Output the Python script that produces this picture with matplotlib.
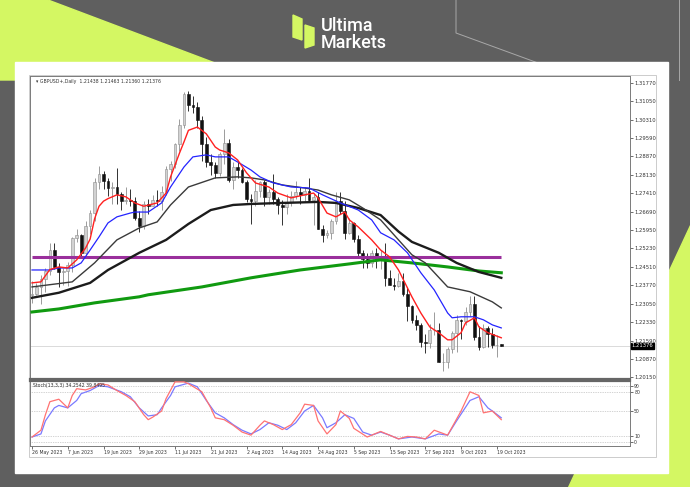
import numpy as np
import matplotlib.pyplot as plt
from matplotlib.patches import Polygon, Rectangle
from matplotlib.transforms import blended_transform_factory

W, H = 690, 487

# GBPUSD daily bars, 26 May 2023 .. 20 Oct 2023
opens = [1.2340, 1.2343, 1.2372, 1.2404, 1.2434, 1.2517, 1.2450, 1.2430, 1.2433, 1.2459,
         1.2566, 1.2576, 1.2506, 1.2610, 1.2663, 1.2785, 1.2818, 1.2791, 1.2763, 1.2767,
         1.2740, 1.2712, 1.2715, 1.2710, 1.2643, 1.2610, 1.2700, 1.2690, 1.2715, 1.2710,
         1.2745, 1.2836, 1.2858, 1.2935, 1.3012, 1.3133, 1.3090, 1.3082, 1.3032, 1.2935,
         1.2865, 1.2851, 1.2822, 1.2895, 1.2940, 1.2795, 1.2845, 1.2835, 1.2785, 1.2720,
         1.2710, 1.2750, 1.2785, 1.2725, 1.2745, 1.2720, 1.2695, 1.2685, 1.2705, 1.2730,
         1.2745, 1.2735, 1.2750, 1.2715, 1.2725, 1.2600, 1.2575, 1.2585, 1.2630, 1.2710,
         1.2670, 1.2585, 1.2625, 1.2560, 1.2505, 1.2480, 1.2465, 1.2505, 1.2490, 1.2490,
         1.2405, 1.2380, 1.2375, 1.2395, 1.2345, 1.2295, 1.2240, 1.2220, 1.2155, 1.2150,
         1.2200, 1.2200, 1.2075, 1.2075, 1.2125, 1.2190, 1.2240, 1.2235, 1.2270, 1.2305,
         1.2175, 1.2135, 1.2210, 1.2185, 1.2140, 1.21438]
highs = [1.2393, 1.2387, 1.2420, 1.2444, 1.2545, 1.2545, 1.2467, 1.2445, 1.2470, 1.2570,
         1.2598, 1.2580, 1.2630, 1.2675, 1.2800, 1.2848, 1.2830, 1.2800, 1.2785, 1.2841,
         1.2745, 1.2765, 1.2760, 1.2725, 1.2670, 1.2710, 1.2720, 1.2736, 1.2755, 1.2770,
         1.2850, 1.2870, 1.2940, 1.3035, 1.3140, 1.3144, 1.3125, 1.3100, 1.3045, 1.2965,
         1.2895, 1.2865, 1.2905, 1.2995, 1.2955, 1.2865, 1.2870, 1.2840, 1.2795, 1.2740,
         1.2795, 1.2790, 1.2795, 1.2760, 1.2818, 1.2725, 1.2715, 1.2740, 1.2750, 1.2790,
         1.2765, 1.2765, 1.2800, 1.2740, 1.2745, 1.2615, 1.2595, 1.2640, 1.2745, 1.2745,
         1.2710, 1.2645, 1.2628, 1.2575, 1.2515, 1.2505, 1.2515, 1.2525, 1.2515, 1.2545,
         1.2438, 1.2406, 1.2425, 1.2425, 1.2370, 1.2300, 1.2260, 1.2230, 1.2185, 1.2225,
         1.2270, 1.2230, 1.2110, 1.2135, 1.2195, 1.2260, 1.2245, 1.2290, 1.2335, 1.2337,
         1.2215, 1.2225, 1.2215, 1.2210, 1.2180, 1.21463]
lows = [1.2308, 1.2338, 1.2305, 1.2350, 1.2420, 1.2440, 1.2370, 1.2380, 1.2376, 1.2430,
        1.2550, 1.2489, 1.2484, 1.2580, 1.2630, 1.2760, 1.2760, 1.2730, 1.2700, 1.2700,
        1.2677, 1.2700, 1.2690, 1.2635, 1.2590, 1.2600, 1.2660, 1.2690, 1.2690, 1.2675,
        1.2735, 1.2790, 1.2840, 1.2910, 1.3000, 1.3065, 1.3060, 1.3000, 1.2870, 1.2845,
        1.2815, 1.2800, 1.2808, 1.2855, 1.2785, 1.2760, 1.2800, 1.2780, 1.2705, 1.2620,
        1.2690, 1.2725, 1.2690, 1.2700, 1.2700, 1.2660, 1.2615, 1.2660, 1.2690, 1.2720,
        1.2700, 1.2710, 1.2705, 1.2615, 1.2600, 1.2550, 1.2565, 1.2560, 1.2620, 1.2660,
        1.2560, 1.2580, 1.2547, 1.2490, 1.2445, 1.2445, 1.2450, 1.2445, 1.2440, 1.2375,
        1.2378, 1.2358, 1.2370, 1.2335, 1.2235, 1.2230, 1.2200, 1.2135, 1.2110, 1.2130,
        1.2180, 1.2075, 1.2037, 1.2050, 1.2110, 1.2115, 1.2165, 1.2220, 1.2255, 1.2160,
        1.2123, 1.2130, 1.2135, 1.2130, 1.2093, 1.21360]
closes = [1.2343, 1.2372, 1.2404, 1.2434, 1.2517, 1.2450, 1.2430, 1.2433, 1.2459, 1.2566,
          1.2576, 1.2506, 1.2610, 1.2663, 1.2785, 1.2818, 1.2791, 1.2763, 1.2767, 1.2740,
          1.2712, 1.2715, 1.2710, 1.2643, 1.2610, 1.2700, 1.2690, 1.2715, 1.2710, 1.2745,
          1.2836, 1.2858, 1.2935, 1.3012, 1.3133, 1.3090, 1.3082, 1.3032, 1.2935, 1.2865,
          1.2851, 1.2822, 1.2895, 1.2940, 1.2795, 1.2845, 1.2835, 1.2785, 1.2720, 1.2710,
          1.2750, 1.2785, 1.2725, 1.2745, 1.2720, 1.2695, 1.2685, 1.2705, 1.2730, 1.2745,
          1.2735, 1.2750, 1.2715, 1.2725, 1.2600, 1.2575, 1.2585, 1.2630, 1.2710, 1.2670,
          1.2585, 1.2625, 1.2560, 1.2505, 1.2480, 1.2465, 1.2505, 1.2490, 1.2490, 1.2405,
          1.2380, 1.2375, 1.2395, 1.2345, 1.2295, 1.2240, 1.2220, 1.2155, 1.2150, 1.2200,
          1.2200, 1.2075, 1.2075, 1.2125, 1.2190, 1.2240, 1.2235, 1.2270, 1.2305, 1.2175,
          1.2135, 1.2210, 1.2185, 1.2140, 1.2140, 1.21376]

# moving averages (sampled along the curves)
red_bar = [0, 2, 4, 6, 8, 10, 12, 13, 14, 15, 16, 17, 19, 21, 23, 25, 28, 30, 31, 33,
           34, 35, 37, 39, 41, 42, 44, 46, 48, 50, 53, 55, 58, 61, 63, 64, 66, 68, 70, 71,
           73, 76, 78, 80, 82, 85, 87, 89, 91, 93, 94, 96, 97, 99, 100, 102, 105]
red_ma = [1.2387, 1.2391, 1.2440, 1.2450, 1.2446, 1.2478, 1.2525, 1.2560, 1.2640, 1.2690,
          1.2710, 1.2720, 1.2735, 1.2727, 1.2703, 1.2690, 1.2703, 1.2742, 1.2806, 1.2900,
          1.2944, 1.2990, 1.3003, 1.2976, 1.2924, 1.2912, 1.2901, 1.2873, 1.2822, 1.2782,
          1.2766, 1.2742, 1.2723, 1.2735, 1.2742, 1.2723, 1.2663, 1.2648, 1.2667, 1.2636,
          1.2608, 1.2557, 1.2517, 1.2490, 1.2438, 1.2332, 1.2268, 1.2213, 1.2190, 1.2162,
          1.2162, 1.2190, 1.2229, 1.2249, 1.2213, 1.2190, 1.2170]
blue_bar = [0, 4, 6, 9, 11, 13, 15, 17, 19, 22, 23, 26, 29, 31, 34, 36, 39, 41, 44, 46,
            49, 51, 54, 58, 62, 65, 69, 73, 76, 78, 81, 84, 87, 90, 93, 94, 96, 99, 101,
            103, 105]
blue_ma = [1.2438, 1.2438, 1.2446, 1.2446, 1.2466, 1.2517, 1.2569, 1.2624, 1.2648, 1.2663,
           1.2667, 1.2667, 1.2703, 1.2766, 1.2845, 1.2885, 1.2893, 1.2885, 1.2885, 1.2865,
           1.2833, 1.2806, 1.2782, 1.2766, 1.2762, 1.2735, 1.2703, 1.2675, 1.2636, 1.2585,
           1.2557, 1.2506, 1.2427, 1.2359, 1.2268, 1.2249, 1.2253, 1.2253, 1.2241, 1.2221,
           1.2209]
black_bar = [0, 9, 14, 19, 24, 28, 31, 35, 41, 46, 49, 52, 56, 61, 64, 67, 71, 74, 78, 82,
             85, 88, 93, 98, 103, 105]
black_ma = [1.2371, 1.2391, 1.2466, 1.2557, 1.2604, 1.2628, 1.2695, 1.2766, 1.2802, 1.2806,
            1.2802, 1.2794, 1.2774, 1.2762, 1.2754, 1.2735, 1.2715, 1.2683, 1.2636, 1.2557,
            1.2498, 1.2466, 1.2371, 1.2352, 1.2312, 1.2288]
slow_bar = [0, 6, 13, 17, 24, 30, 35, 40, 45, 49, 56, 64, 68, 73, 78, 82, 85, 91, 95, 100, 105]
slow_ma = [1.2328, 1.2348, 1.2387, 1.2438, 1.2506, 1.2557, 1.2620, 1.2675, 1.2695, 1.2699,
           1.2703, 1.2707, 1.2703, 1.2683, 1.2655, 1.2590, 1.2549, 1.2506, 1.2466, 1.2430,
           1.2407]
green_bar = [0, 6, 14, 24, 26, 38, 49, 60, 71, 78, 85, 93, 100, 105]
green_ma = [1.2272, 1.2284, 1.2308, 1.2332, 1.2340, 1.2371, 1.2407, 1.2438, 1.2462, 1.2478,
            1.2466, 1.2450, 1.2434, 1.2427]
purple_bar = [0, 105]
purple_ma = [1.2490, 1.2490]

# stochastic (13,3,3)
k_bar = [0, 2, 3, 4, 6, 7, 8, 9, 10, 12, 14, 15, 17, 19, 21, 23, 25, 26, 27, 29, 30, 32,
         34, 35, 38, 40, 41, 43, 45, 47, 49, 51, 52, 54, 56, 58, 60, 61, 63, 64, 66, 68,
         69, 71, 72, 75, 78, 80, 82, 84, 86, 88, 90, 93, 96, 98, 100, 101, 103, 105]
k_val = [8, 19, 44, 65, 69, 62, 55, 75, 86, 84, 89, 94, 92, 83, 75, 65, 44, 36, 40, 50, 70,
         97, 97, 94, 81, 55, 39, 36, 27, 16, 11, 27, 34, 28, 20, 28, 47, 61, 59, 34, 13, 28,
         50, 38, 22, 8, 17, 11, 5, 9, 8, 5, 19, 11, 50, 81, 75, 47, 50, 36]
d_bar = [0, 2, 3, 5, 6, 8, 10, 11, 13, 15, 17, 20, 22, 24, 26, 28, 29, 31, 32, 35, 37, 39,
         41, 43, 45, 47, 49, 51, 53, 55, 57, 59, 61, 63, 65, 66, 68, 70, 72, 74, 76, 78, 80,
         82, 85, 87, 88, 91, 93, 95, 98, 100, 102, 103, 105]
d_val = [8, 13, 34, 55, 59, 55, 67, 78, 83, 91, 89, 81, 73, 55, 42, 44, 55, 75, 89, 95, 89,
         67, 47, 39, 28, 19, 13, 20, 31, 27, 20, 31, 50, 59, 39, 23, 31, 44, 38, 16, 11, 16,
         11, 5, 8, 6, 5, 13, 11, 34, 67, 73, 55, 50, 39]
stoch_levels = [90, 80, 50, 10, 0]

price_ticks = [1.31770, 1.31050, 1.30310, 1.29590, 1.28870, 1.28130, 1.27410, 1.26690,
               1.25950, 1.25230, 1.24510, 1.23770, 1.23050, 1.22330, 1.21590, 1.20870, 1.20150]
date_labels = ["26 May 2023", "7 Jun 2023", "19 Jun 2023", "29 Jun 2023", "11 Jul 2023",
               "21 Jul 2023", "2 Aug 2023", "14 Aug 2023", "24 Aug 2023", "5 Sep 2023",
               "15 Sep 2023", "27 Sep 2023", "9 Oct 2023", "19 Oct 2023"]
date_bars = list(range(0, 8 * len(date_labels), 8))
last_price = 1.21376

LIME = '#d4f763'
GREY_BG = '#5f5f5f'


def px(x0, y0, x1, y1):
    # pixel box -> figure fraction rect
    return [x0 / W, 1 - y1 / H, (x1 - x0) / W, (y1 - y0) / H]


fig = plt.figure(figsize=(W / 100, H / 100), dpi=100)

# ---- page background ----
bg = fig.add_axes([0, 0, 1, 1])
bg.set_xlim(0, W)
bg.set_ylim(H, 0)
bg.axis('off')
bg.add_patch(Rectangle((0, 0), W, H, color=GREY_BG, zorder=0))
bg.add_patch(Polygon([(0, 0), (48, 0), (260, 80), (0, 80)], color=LIME, zorder=1))
bg.add_patch(Polygon([(690, 225), (690, 487), (568, 487)], color=LIME, zorder=1))
bg.plot([456, 456, 560], [0, 33, 71], color='#a8a8a8', lw=0.7, zorder=1)
bg.plot([679, 679], [0, 80], color='#a8a8a8', lw=0.7, zorder=1)
bg.add_patch(Rectangle((15, 62), 653, 411, color='white', zorder=2))
bg.add_patch(Rectangle((29, 75), 627, 382, fill=False, ec='#c4c4c4', lw=0.6, zorder=3))

# logo
bg.add_patch(Polygon([(293, 15), (302, 19), (302, 40), (293, 37)], color=LIME, zorder=3))
bg.add_patch(Polygon([(305, 25), (314, 28), (314, 45), (305, 48)], color=LIME, zorder=3))
bg.text(321, 31, "Ultima", color='white', fontsize=13, family='Roboto',
        fontweight='medium', va='baseline', ha='left', zorder=3)
bg.text(321, 48, "Markets", color='white', fontsize=13, family='Roboto',
        fontweight='medium', va='baseline', ha='left', zorder=3)

x_lo, x_hi = -0.45, 133.8

# ---- price panel ----
ax = fig.add_axes(px(30, 76, 630, 379))
ax.set_facecolor('white')
ax.set_xlim(x_lo, x_hi)
ax.set_ylim(1.20071, 1.32047)

o = np.array(opens)
h = np.array(highs)
l = np.array(lows)
c = np.array(closes)
x = np.arange(len(c))
up = c >= o
body = np.where(np.abs(c - o) < 0.00008, 0.00008, c - o)

ax.axhline(last_price, color='#d4d4d4', lw=0.6, zorder=1)
ax.vlines(x[up], l[up], h[up], color='#8c8c8c', lw=0.6, zorder=2)
ax.vlines(x[~up], l[~up], h[~up], color='#111111', lw=0.6, zorder=2)
ax.bar(x[up], body[up], bottom=o[up], width=0.62, color='#d2d2d2',
       edgecolor='#8c8c8c', lw=0.4, zorder=3)
ax.bar(x[~up], body[~up], bottom=o[~up], width=0.62, color='#111111',
       edgecolor='#111111', lw=0.4, zorder=3)

ax.plot(purple_bar, purple_ma, color='#9a2f9c', lw=2.2, zorder=4, solid_capstyle='butt')
ax.plot(green_bar, green_ma, color='#109a10', lw=2.2, zorder=4)
ax.plot(slow_bar, slow_ma, color='#1c1c1c', lw=1.7, zorder=5)
ax.plot(black_bar, black_ma, color='#3a3a3a', lw=1.0, zorder=5)
ax.plot(blue_bar, blue_ma, color='#2424ff', lw=0.9, zorder=6)
ax.plot(red_bar, red_ma, color='#ff2020', lw=1.0, zorder=6)

ax.yaxis.tick_right()
ax.set_yticks(price_ticks)
ax.set_yticklabels([f"{v:.5f}" for v in price_ticks])
ax.set_xticks([])
ax.tick_params(axis='y', labelsize=3.8, length=2, width=0.5, pad=1.5,
               colors='#333333')
for s in ax.spines.values():
    s.set_color('#7a7a7a')
    s.set_linewidth(0.7)
ax.spines['bottom'].set_linewidth(1.6)
ax.spines['bottom'].set_color('#666666')

ax.text(0.01, 0.99, "\u25be GBPUSD+,Daily  1.21438 1.21463 1.21360 1.21376",
        transform=ax.transAxes, fontsize=3.3, va='top', ha='left', color='#333333')
tr = blended_transform_factory(ax.transAxes, ax.transData)
ax.text(1.003, last_price, "1.21376", transform=tr, fontsize=3.8, color='white',
        va='center', ha='left',
        bbox=dict(boxstyle='square,pad=0.15', fc='black', ec='black'))

# ---- stochastic panel ----
ax2 = fig.add_axes(px(30, 381, 630, 446))
ax2.set_facecolor('white')
ax2.set_xlim(x_lo, x_hi)
ax2.set_ylim(-6.5, 98.4)
for lv in stoch_levels:
    ax2.axhline(lv, color='#a8a8a8', lw=0.5, ls=(0, (1, 1.5)), zorder=1)
ax2.plot(d_bar, d_val, color='#7a7aff', lw=0.9, zorder=2)
ax2.plot(k_bar, k_val, color='#ff7272', lw=0.9, zorder=3)

ax2.yaxis.tick_right()
ax2.set_yticks(stoch_levels)
ax2.set_yticklabels([str(v) for v in stoch_levels])
ax2.set_xticks(date_bars)
ax2.set_xticklabels(date_labels)
for t in ax2.get_xticklabels():
    t.set_ha('left')
ax2.tick_params(axis='both', labelsize=3.3, length=2, width=0.5, pad=1,
                colors='#333333')
for s in ax2.spines.values():
    s.set_color('#7a7a7a')
    s.set_linewidth(0.7)
ax2.spines['top'].set_linewidth(1.6)
ax2.spines['top'].set_color('#666666')
ax2.text(0.005, 0.97, "Stoch(13,3,3) 34.2542 39.8495", transform=ax2.transAxes,
         fontsize=3.3, va='top', ha='left', color='#333333')

fig.savefig('out.png', dpi=100)
